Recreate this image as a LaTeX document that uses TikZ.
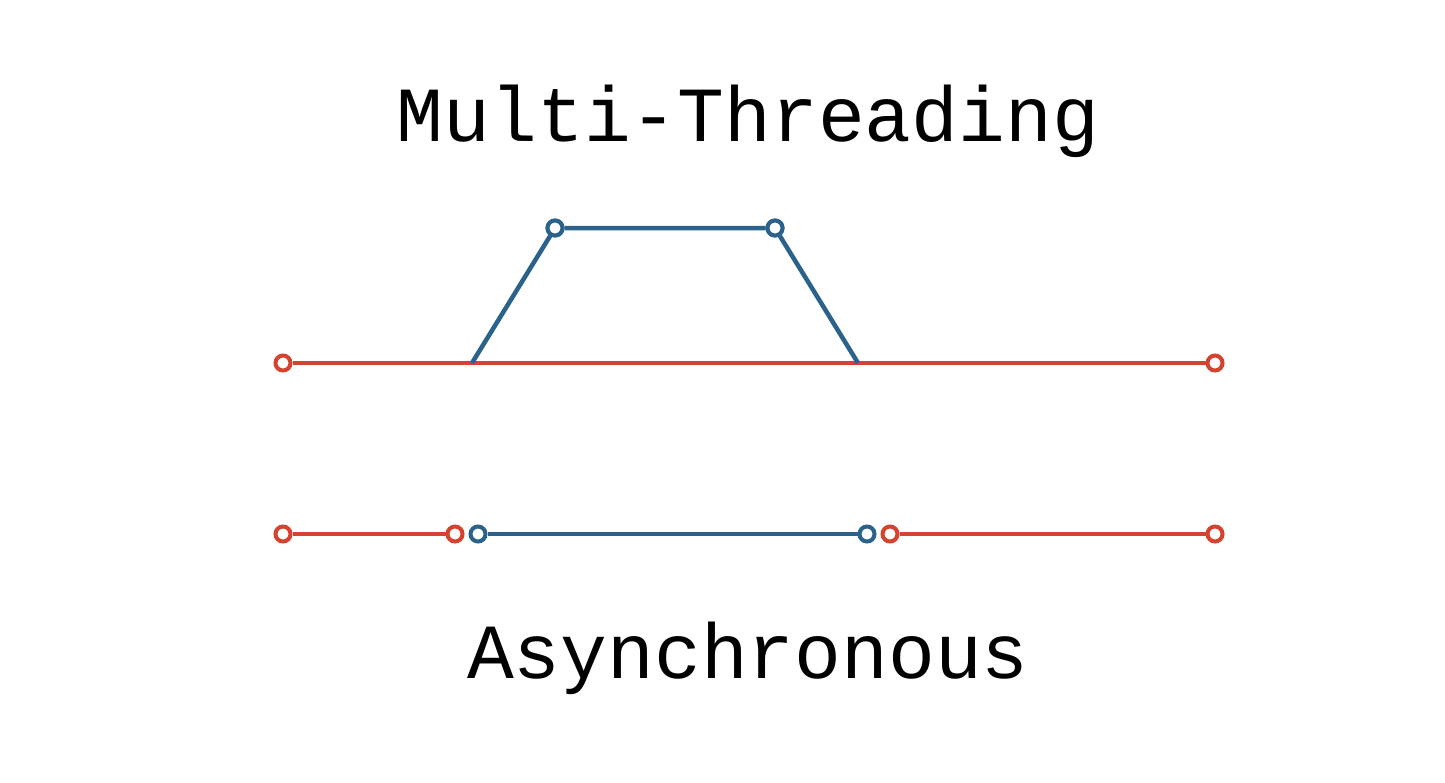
\documentclass[tikz,border=0pt]{standalone}
\usepackage{fontspec}
\setmonofont{Liberation Mono}
\definecolor{redline}{RGB}{214,66,48}
\definecolor{blueline}{RGB}{42,98,140}
\begin{document}
\begin{tikzpicture}[x=1pt,y=-1pt,
  dot/.style={circle,draw=#1,fill=white,line width=4pt,inner sep=0pt,minimum size=15pt},
  redl/.style={draw=redline,line width=4.5pt},
  bluel/.style={draw=blueline,line width=4.5pt},
  title/.style={font=\ttfamily\fontsize{78}{80}\selectfont,anchor=base,inner sep=0pt}]
\useasboundingbox[fill=white] (0,0) rectangle (1445,782);
\node[title] (mt) at (748,141) {Multi-Threading};
\node[title] (as) at (748,678) {Asynchronous};
% top
\coordinate (b1) at (472,363);
\coordinate (b2) at (858,363);
\node[dot=redline] (r1) at (283,363) {};
\node[dot=redline] (r2) at (1215,363) {};
\node[dot=blueline] (t1) at (555,228) {};
\node[dot=blueline] (t2) at (775,228) {};
\draw[redl] (r1) -- (r2);
\draw[bluel,line join=round] (b1) -- (t1) -- (t2) -- (b2);
\node[dot=blueline] at (t1) {};
\node[dot=blueline] at (t2) {};
% bottom
\node[dot=redline] (a1) at (283,534) {};
\node[dot=redline] (a2) at (455,534) {};
\node[dot=blueline] (a3) at (478,534) {};
\node[dot=blueline] (a4) at (867,534) {};
\node[dot=redline] (a5) at (890,534) {};
\node[dot=redline] (a6) at (1215,534) {};
\draw[redl] (a1) -- (a2);
\draw[bluel] (a3) -- (a4);
\draw[redl] (a5) -- (a6);
\end{tikzpicture}
\end{document}
